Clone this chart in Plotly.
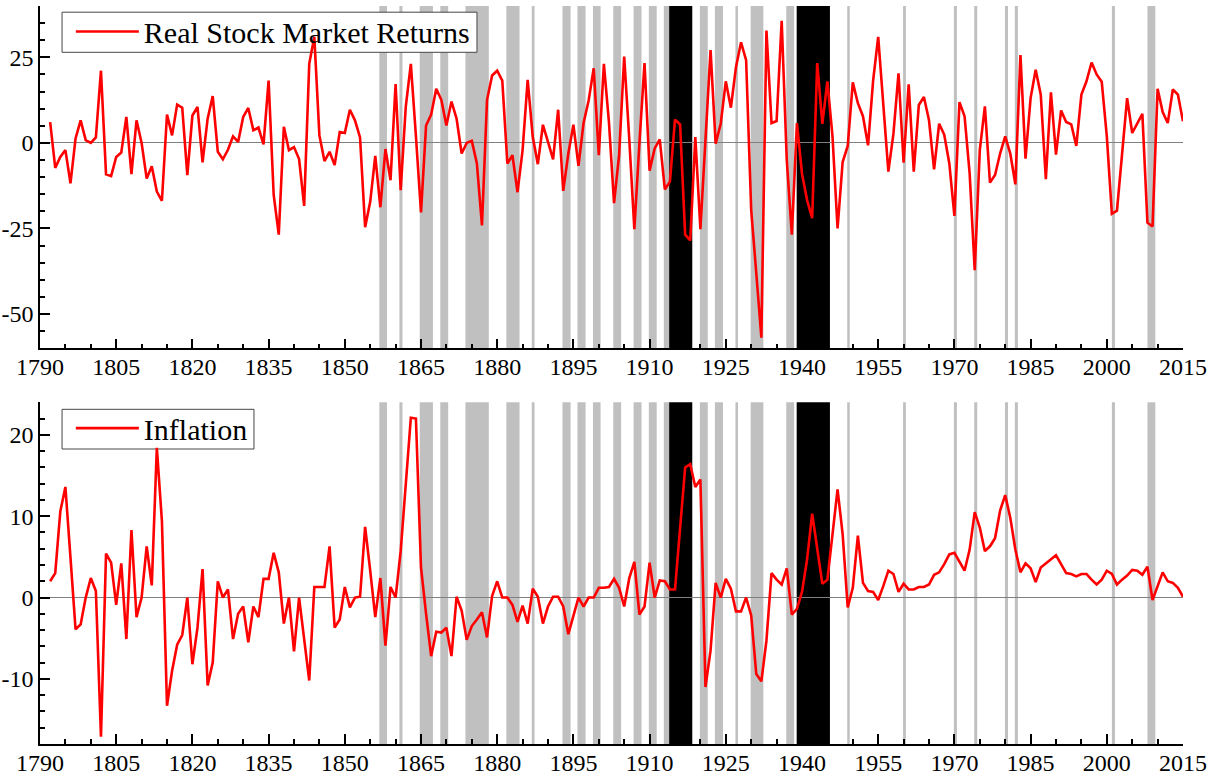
import plotly.graph_objects as go

# ---------------- data ----------------
years = list(range(1792, 2016))

stock_returns = [
    6.1, -7.3, -4.1, -2.1, -11.8, 1.3, 6.6, 0.8, 0.0, 1.6,            # 1792-1801
    21.1, -9.2, -9.7, -4.1, -2.8, 7.6, -9.1, 6.6, 0.0, -10.4,         # 1802-1811
    -6.8, -14.2, -16.9, 8.3, 2.2, 11.2, 10.3, -9.4, 8.0, 10.5,        # 1812-1821
    -5.7, 7.1, 13.7, -2.6, -4.8, -2.0, 1.9, 0.3, 7.6, 10.2,           # 1822-1831
    3.7, 4.5, -0.4, 18.2, -15.2, -26.8, 4.7, -2.1, -1.2, -4.7,        # 1832-1841
    -18.4, 23.1, 31.0, 2.2, -5.3, -2.6, -6.5, 3.2, 2.9, 9.7,          # 1842-1851
    6.6, 1.6, -24.6, -17.2, -3.8, -18.8, -1.8, -10.9, 17.2, -13.8,    # 1852-1861
    10.5, 23.1, 2.0, -20.3, 5.1, 8.3, 15.8, 12.6, 5.1, 12.1,          # 1862-1871
    7.1, -3.1, 0.0, 0.6, -6.0, -24.1, 12.6, 19.7, 21.1, 18.2,         # 1872-1881
    -6.0, -3.6, -14.4, -2.1, 18.4, 1.7, -6.2, 5.3, 0.3, -4.8,         # 1882-1891
    9.7, -14.0, -3.1, 5.3, -6.7, 5.8, 12.4, 21.8, -3.6, 23.1,         # 1892-1901
    6.0, -17.6, -3.5, 25.2, 1.0, -25.2, 0.0, 23.3, -8.1, -1.6,        # 1902-1911
    1.0, -13.6, -11.3, 6.8, 5.4, -26.8, -28.5, 1.7, -25.2, 1.0,       # 1912-1921
    27.1, -0.2, 5.6, 18.0, 10.3, 22.1, 29.4, 24.2, -19.6, -38.0,      # 1922-1931
    -56.9, 32.8, 5.8, 6.4, 35.7, -5.0, -26.8, 5.8, -9.0, -16.7,       # 1932-1941
    -22.0, 23.3, 5.6, 18.0, 2.0, -25.0, -5.6, -0.9, 17.7, 11.6,       # 1942-1951
    7.8, -0.7, 18.2, 31.0, 11.0, -8.4, 2.7, 20.3, -5.8, 17.1,         # 1952-1961
    -8.4, 11.1, 13.4, 6.6, -7.7, 5.6, 2.4, -6.0, -21.3, 11.9,         # 1962-1971
    7.8, -8.9, -37.2, -2.1, 10.7, -11.6, -9.4, -3.1, 1.9, -3.1,       # 1972-1981
    -12.1, 25.7, -4.6, 13.1, 21.4, 14.1, -10.6, 14.8, -3.4, 9.5,      # 1982-1991
    6.1, 5.4, -0.9, 14.1, 18.0, 23.5, 20.0, 17.9, 2.0, -20.7,         # 1992-2001
    -19.8, -4.0, 13.1, 2.9, 5.6, 8.5, -23.3, -24.4, 15.8, 9.0,        # 2002-2011
    5.8, 15.6, 14.1, 6.3,                                             # 2012-2015
]

inflation = [
    2.0, 3.0, 10.6, 13.6, 4.9, -3.9, -3.3, 0.0, 2.4, 0.8,             # 1792-1801
    -17.1, 5.4, 4.3, -0.9, 4.2, -5.1, 8.3, -2.4, 0.0, 6.3,            # 1802-1811
    1.5, 18.4, 9.4, -13.3, -9.0, -5.8, -4.6, 0.0, -8.2, -3.7,         # 1812-1821
    3.5, -10.8, -8.0, 2.0, 0.0, 1.0, -5.1, -2.0, -1.1, -5.5,          # 1822-1831
    -1.1, -2.4, 2.3, 2.3, 5.5, 3.1, -3.2, 0.0, -6.6, 0.0,             # 1832-1841
    -5.1, -10.2, 1.3, 1.3, 1.3, 6.3, -3.7, -2.7, 1.3, -1.2,           # 1842-1851
    0.0, 0.1, 8.7, 3.3, -2.4, 2.4, -5.9, 1.3, 0.0, 5.7,               # 1852-1861
    13.5, 22.1, 22.0, 3.7, -2.0, -7.2, -4.2, -4.3, -3.7, -7.2,        # 1862-1871
    0.1, -1.6, -5.2, -3.5, -2.7, -1.8, -4.9, 0.2, 2.0, 0.0,           # 1872-1881
    0.0, -0.9, -3.0, -1.0, -3.2, 1.1, 0.1, -3.2, -1.1, 0.1,           # 1882-1891
    0.1, -1.1, -4.5, -2.2, 0.0, -1.1, 0.0, 0.0, 1.2, 1.2,             # 1892-1901
    1.3, 2.3, 1.2, -1.1, 2.4, 4.4, -2.1, -1.1, 4.3, 0.0,              # 1902-1911
    2.1, 2.0, 1.0, 1.0, 8.0, 16.0, 16.4, 13.6, 14.5, -11.0,           # 1912-1921
    -6.5, 1.8, 0.0, 2.3, 1.1, -1.7, -1.7, 0.0, -2.2, -9.4,            # 1922-1931
    -10.3, -5.3, 3.0, 2.2, 1.6, 3.6, -2.1, -1.4, 0.7, 4.7,            # 1932-1941
    10.3, 6.0, 1.7, 2.2, 7.8, 13.3, 7.8, -1.2, 1.2, 7.6,              # 1942-1951
    1.8, 0.8, 0.7, -0.3, 1.4, 3.3, 2.9, 0.7, 1.7, 1.0,                # 1952-1961
    1.0, 1.3, 1.3, 1.6, 2.8, 3.1, 4.1, 5.3, 5.5, 4.4,                 # 1962-1971
    3.3, 5.9, 10.5, 8.6, 5.7, 6.3, 7.3, 10.7, 12.6, 9.8,              # 1972-1981
    5.9, 3.1, 4.2, 3.6, 1.9, 3.7, 4.2, 4.7, 5.2, 4.1,                 # 1982-1991
    3.0, 2.9, 2.6, 2.9, 2.9, 2.2, 1.6, 2.2, 3.3, 2.9,                 # 1992-2001
    1.6, 2.2, 2.7, 3.4, 3.3, 2.8, 3.8, -0.3, 1.4, 3.1,                # 2002-2011
    2.0, 1.8, 1.2, 0.1,                                               # 2012-2015
]

# shaded periods (grey = recessions, black = world wars)
recession_start = [1856.8, 1860.75, 1864.75, 1868.8, 1873.75, 1881.8, 1886.8,
                   1892.85, 1895.8, 1898.85, 1902.85, 1906.85, 1909.85, 1912.8,
                   1919.9, 1922.85, 1926.9, 1929.9, 1936.9, 1948.9, 1959.9,
                   1969.9, 1973.9, 1979.95, 1981.9, 2001.0, 2008.0]
recession_end = [1858.3, 1861.35, 1867.35, 1870.35, 1878.35, 1884.4, 1887.35,
                 1894.45, 1897.4, 1900.35, 1904.4, 1908.4, 1911.4, 1913.85,
                 1921.45, 1924.45, 1927.4, 1932.4, 1938.45, 1949.4, 1960.45,
                 1970.5, 1974.5, 1980.55, 1982.5, 2001.6, 2009.55]
war_start = [1913.85, 1938.95]
war_end = [1918.4, 1945.5]

x_tick_labels = ["1790", "1805", "1820", "1835", "1850", "1865", "1880", "1895",
                 "1910", "1925", "1940", "1955", "1970", "1985", "2000", "2015"]
top_tick_labels = ["-50", "-25", "0", "25"]
bottom_tick_labels = ["-10", "0", "10", "20"]

# ---------------- figure ----------------
FONT = "Liberation Serif"
RED = "#ff0000"
GREY = "rgb(192,192,192)"

fig = go.Figure()
fig.add_trace(go.Scatter(x=years, y=stock_returns, mode="lines",
                         line=dict(color=RED, width=2.6),
                         name="Real Stock Market Returns",
                         xaxis="x", yaxis="y", legend="legend",
                         hoverinfo="skip"))
fig.add_trace(go.Scatter(x=years, y=inflation, mode="lines",
                         line=dict(color=RED, width=2.6),
                         name="Inflation",
                         xaxis="x2", yaxis="y2", legend="legend2",
                         hoverinfo="skip"))

shapes = []
for xr, yr in (("x", "y domain"), ("x2", "y2 domain")):
    for s, e in zip(recession_start, recession_end):
        shapes.append(dict(type="rect", xref=xr, yref=yr, x0=s, x1=e, y0=0, y1=1,
                           fillcolor=GREY, line=dict(width=0), layer="below"))
    for s, e in zip(war_start, war_end):
        shapes.append(dict(type="rect", xref=xr, yref=yr, x0=s, x1=e, y0=0, y1=1,
                           fillcolor="black", line=dict(width=0), layer="below"))

# legend frames (white boxes hiding the shading, trace still drawn above)
shapes.append(dict(type="rect", xref="x domain", yref="y domain",
                   x0=0.0193, x1=0.3823, y0=0.8647, y1=0.9819,
                   fillcolor="white", line=dict(color="rgb(70,70,70)", width=1),
                   layer="below"))
shapes.append(dict(type="rect", xref="x2 domain", yref="y2 domain",
                   x0=0.0193, x1=0.1872, y0=0.8633, y1=0.9795,
                   fillcolor="white", line=dict(color="rgb(70,70,70)", width=1),
                   layer="below"))

tick_font = dict(family=FONT, size=24, color="black")
x_tick_vals = [int(t) for t in x_tick_labels]


def xaxis_cfg(anchor):
    return dict(domain=[0, 1], anchor=anchor, range=[1790, 2015], automargin=False,
                tickmode="array", tickvals=x_tick_vals, ticktext=x_tick_labels,
                ticks="inside", ticklen=10, tickwidth=1.5, tickcolor="black",
                ticklabelstandoff=-4,
                minor=dict(ticks="inside", ticklen=5, tickwidth=1.5,
                           tickcolor="black", tickmode="linear", tick0=1790, dtick=5),
                showline=True, linecolor="black", linewidth=1.5,
                showgrid=False, zeroline=False, tickfont=tick_font)


def yaxis_cfg(anchor, domain, rng, labels, minor_step):
    return dict(domain=domain, anchor=anchor, range=rng, automargin=False,
                tickmode="array", tickvals=[float(t) for t in labels], ticktext=labels,
                ticks="inside", ticklen=10, tickwidth=1.5, tickcolor="black",
                ticklabelstandoff=0,
                minor=dict(ticks="inside", ticklen=5, tickwidth=1.5,
                           tickcolor="black", tickmode="linear", tick0=0,
                           dtick=minor_step),
                showline=True, linecolor="black", linewidth=1.5,
                showgrid=False, zeroline=True, zerolinecolor="rgb(128,128,128)",
                zerolinewidth=1, tickfont=tick_font)


fig.update_layout(
    width=1212, height=776,
    margin=dict(l=40, r=29, t=6, b=32, autoexpand=False),
    paper_bgcolor="white", plot_bgcolor="white",
    font=dict(family=FONT, color="black"),
    xaxis=xaxis_cfg("y"),
    yaxis=yaxis_cfg("x", [0.5362, 1.0], [-60, 40], top_tick_labels, 5),
    xaxis2=xaxis_cfg("y2"),
    yaxis2=yaxis_cfg("x2", [0.0, 0.4630], [-18, 24], bottom_tick_labels, 2),
    shapes=shapes,
    showlegend=True,
    legend=dict(x=0.027, y=0.9655, xanchor="left", yanchor="middle",
                bgcolor="rgba(0,0,0,0)", borderwidth=0, itemwidth=63,
                font=dict(family=FONT, size=30, color="black")),
    legend2=dict(x=0.027, y=0.4280, xanchor="left", yanchor="middle",
                 bgcolor="rgba(0,0,0,0)", borderwidth=0, itemwidth=63,
                 font=dict(family=FONT, size=30, color="black")),
    hovermode=False,
)

fig.write_html(
    "out.html",
    config={"displayModeBar": False},
    post_script="document.body.style.margin='0px';"
                "document.body.style.overflow='hidden';",
)
